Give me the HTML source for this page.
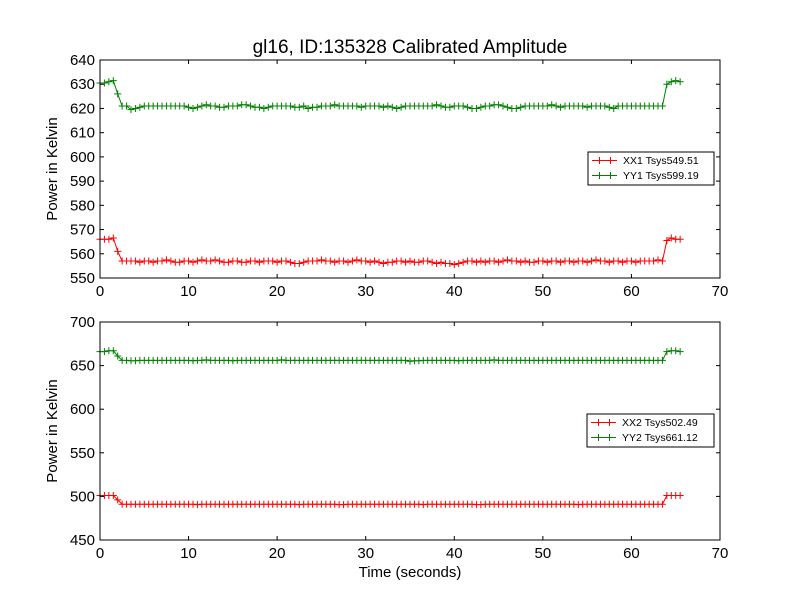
<!DOCTYPE html>
<html><head><meta charset="utf-8"><style>
html,body{margin:0;padding:0;background:#fff;}
svg{display:block;font-family:"Liberation Sans","DejaVu Sans",sans-serif;}
</style></head><body>
<svg id="chart" width="800" height="600" viewBox="0 0 800 600"></svg>
<script>
const xTicks=[0,10,20,30,40,50,60,70];
const topYTicks=[550,560,570,580,590,600,610,620,630,640];
const botYTicks=[450,500,550,600,650,700];
const timeStep=0.5;
const xx1=[566,566,566,566.5,561,
557,557,557,557,556.5,557,557,556.5,557,557,
557.5,557,556.5,556.5,557,557,556.5,557,557.5,557,
557,557.5,557,556.5,556.5,557,557,556.5,556.5,557,
557,556.5,557,557,557,556.5,557,557,556.5,556,
556,556.5,557,557,557,557.5,557,557,556.5,557,
557,556.5,557,557.5,557,557,556.5,557,556.5,556,
556.5,556.5,557,557,556.5,557,556.5,556.5,557,557,
556.5,556,556.5,556,556,555.5,556,556.5,557,557,
556.5,557,556.5,557,557,556.5,557,557.5,557,557,
556.5,557,556.5,556.5,557,557,556.5,557,557,556.5,
557,557,556.5,557,557,556.5,557,557.5,557,557,
556.5,557,557,556.5,557,557,556.5,557,557,557,
557,557.5,557,
565.5,566.5,566,566];
const yy1=[630.5,630.5,631,631.5,626,
621,621,619.5,620,620.5,621,621,621,621,621,
621,621,621,621,621,620.5,620,620.5,621,621.5,
621,621,620.5,620.5,621,621,621,621.5,621.5,621,
620.5,620.5,620,620.5,621,621,621,621,621,620.5,
620.5,621,620,620.5,620.5,621,621,621,621.5,621,
621,621,621,621,620.5,621,621,621,621,620.5,
621,620.5,620,620.5,621,621,621,621,621,621,
621,621.5,621,620.5,620.5,621,621,621,620.5,620,
620,620.5,621,621,621.5,621.5,621,620.5,620,620,
620.5,621,621,621,621,621,621,621.5,621,620.5,
621,621,621,621,621,620.5,621,621,621,621,
620.5,620,621,621,621,621,621,621,621,621,
621,621,621,
630,631,631.5,631];
const xx2=[501,501,501,501,496,
491,491,491,491,491,491,491,491,491,491,
491,491,491,491,491,491,491,490.5,491,491,
491,491,491,491,491,491,491,491,491,491,
491,491,491,491,491,491,491,491,491,491,
490.5,491,491,491,491,491,491,491,491,490.5,
490.5,491,491,491,491,491,491,491,491,491,
491,491,491,491,491,491,491,491,490.5,491,
491,491,491,491,491,491,491,491,491,491,
490.5,490.5,491,491,491,491,491,491,491,491,
491,491,491,491,491,491,491,491,491,491,
491,491,491,490.5,491,491,491,491,491,491,
491,491,491,491,491,491,491,491,491,491,
491,491,491,
501,501,501,501];
const yy2=[666,666,667,667,661,
656,656,655.5,655.5,656,656,656,656,656,656,
656,656,656,656,656,656,655.5,656,656,656.5,
656,656,656,656,656,655.5,656,656,656,656,
656,656,656,656,656,656,656.5,656,656,656,
656,656,656,656,656,656,656,656,656,656,
656,656,656,656,656,656,656,656,656,656,
656,656,656,656,656,655,655.5,655.5,656,656,
656,656,656,656,656,656,655.5,656,656,656,
656,656,656,656,656.5,656,656,656,656,656,
656,656,656,656,656,656,656,656,656,656,
656,656,656,656,656,656,656,656,656,656,
656,656,656,656,656,656,656,656,656,656,
656,656,656,
666,667,667,666];

const NS="http://www.w3.org/2000/svg";
const svg=document.getElementById('chart');
function mk(tag,attrs,parent){const e=document.createElementNS(NS,tag);for(const k in attrs)e.setAttribute(k,attrs[k]);(parent||svg).appendChild(e);return e;}

function panel(cfg){
  const {top,bottom,left,right,ymin,ymax,yticks,series,legend,name}=cfg;
  const g=mk('g',{});
  
  
  const sx=v=>left+(v-0)/(70-0)*(right-left);
  const sy=v=>bottom-(v-ymin)/(ymax-ymin)*(bottom-top);
  const frame=mk('rect',{x:left,y:top,width:right-left,height:bottom-top,fill:'#fff',stroke:'none'},g);
  
  
  series.forEach(s=>{
    const sg=mk('g',{},g);
    
    
    const pts=s.data.map((v,i)=>sx(i*timeStep).toFixed(2)+','+sy(v).toFixed(2)).join(' ');
    mk('polyline',{points:pts,fill:'none',stroke:s.color,'stroke-width':1},sg);
    let d='';
    s.data.forEach((v,i)=>{const x=sx(i*timeStep),y=sy(v);d+=`M${(x-3.5).toFixed(2)} ${y.toFixed(2)}h7M${x.toFixed(2)} ${(y-3.5).toFixed(2)}v7`;});
    mk('path',{d:d,stroke:s.color,'stroke-width':1,fill:'none'},sg);
  });
  const border=mk('rect',{x:left,y:top,width:right-left,height:bottom-top,fill:'none',stroke:'#000','stroke-width':1},g);
  
  
  xTicks.forEach(t=>{
    const x=sx(t);
    mk('line',{x1:x,x2:x,y1:bottom,y2:bottom-4,stroke:'#000'},g);
    mk('line',{x1:x,x2:x,y1:top,y2:top+4,stroke:'#000'},g);
    const tx=mk('text',{x:x,y:bottom+18,'text-anchor':'middle','font-size':'15px',fill:'#000'},g);
    tx.textContent=t;
    
    
  });
  yticks.forEach(t=>{
    const y=sy(t);
    mk('line',{x1:left,x2:left+4,y1:y,y2:y,stroke:'#000'},g);
    mk('line',{x1:right,x2:right-4,y1:y,y2:y,stroke:'#000'},g);
    const tx=mk('text',{x:left-5,y:y+5,'text-anchor':'end','font-size':'15px',fill:'#000'},g);
    tx.textContent=t;
    
    
  });
  const yl=mk('text',{x:0,y:0,transform:`translate(57,${(top+bottom)/2}) rotate(-90)`,'text-anchor':'middle','font-size':'15px',fill:'#000'},g);
  yl.textContent='Power in Kelvin';
  
  
  const lg=mk('g',{},g);
  
  
  mk('rect',{x:legend.x,y:legend.y,width:legend.w,height:33,fill:'#fff',stroke:'#000','stroke-width':1},lg);
  series.forEach((s,i)=>{
    const y=legend.y+8.5+i*15;
    const eg=mk('g',{},lg);
    
    
    mk('line',{x1:legend.x+4,x2:legend.x+29,y1:y,y2:y,stroke:s.color},eg);
    mk('path',{d:`M${legend.x+8} ${y}h7M${legend.x+11.5} ${y-3.5}v7M${legend.x+19} ${y}h7M${legend.x+22.5} ${y-3.5}v7`,stroke:s.color},eg);
    const t=mk('text',{x:legend.x+35,y:y+3.5,'font-size':'10.5px',fill:'#000'},eg);
    t.textContent=s.label;
  });
}

const title=mk('text',{x:410,y:53,'text-anchor':'middle','font-size':'19px',fill:'#000'});
title.textContent='gl16, ID:135328 Calibrated Amplitude';



panel({name:'top-panel',top:60,bottom:278,left:100,right:720,ymin:550,ymax:640,yticks:topYTicks,
  series:[{label:'XX1 Tsys549.51',color:'#ff0000',data:xx1},{label:'YY1 Tsys599.19',color:'#008000',data:yy1}],
  legend:{x:588,y:152,w:126}});
panel({name:'bottom-panel',top:322,bottom:540,left:100,right:720,ymin:450,ymax:700,yticks:botYTicks,
  series:[{label:'XX2 Tsys502.49',color:'#ff0000',data:xx2},{label:'YY2 Tsys661.12',color:'#008000',data:yy2}],
  legend:{x:587,y:414,w:127}});

const xl=mk('text',{x:410,y:577,'text-anchor':'middle','font-size':'15px',fill:'#000'});
xl.textContent='Time (seconds)';


</script>
</body></html>
